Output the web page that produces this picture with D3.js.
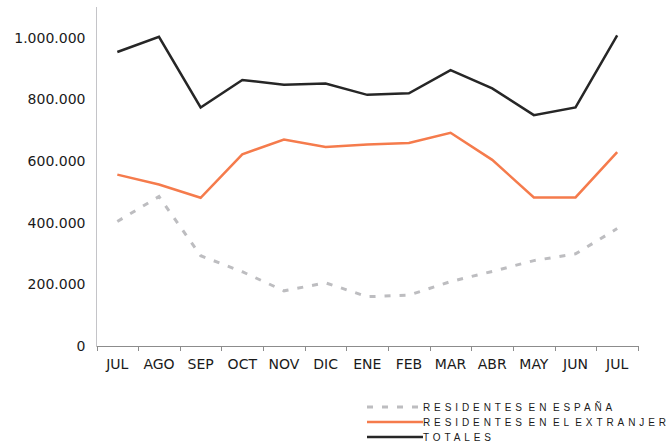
<!DOCTYPE html>
<html>
<head>
<meta charset="utf-8">
<script src="https://cdn.jsdelivr.net/npm/d3@7"></script>
<style>
  body { margin: 0; background: #fff; }
  svg { display: block; font-family: "DejaVu Sans", Verdana, sans-serif; }
</style>
</head>
<body>
<script>
var months, espana, extranjero, totales, yTicks, seriesNames;

months = ['JUL', 'AGO', 'SEP', 'OCT', 'NOV', 'DIC', 'ENE', 'FEB', 'MAR', 'ABR', 'MAY', 'JUN', 'JUL'];

espana = [404000, 485000, 293000, 241000, 179000, 205000, 160000, 165000, 209000, 242000, 277000, 299000, 381000];
extranjero = [556000, 524000, 481000, 622000, 670000, 646000, 654000, 659000, 692000, 604000, 482000, 482000, 629000];
totales = [954000, 1003000, 774000, 863000, 848000, 852000, 815000, 820000, 895000, 836000, 749000, 774000, 1008000];

yTicks = [0, 200000, 400000, 600000, 800000, 1000000];

seriesNames = ['RESIDENTES EN ESPAÑA', 'RESIDENTES EN EL EXTRANJERO', 'TOTALES'];

var W = 667, H = 447;
var plotLeft = 96.5, plotRight = 638, plotTop = 7, plotBottom = 346;

var svg = d3.select('body').append('svg')
  .attr('width', W)
  .attr('height', H);

// index based band so repeated JUL stays separate
var x = d3.scaleBand()
  .domain(d3.range(months.length))
  .range([plotLeft, plotRight]);

var y = d3.scaleLinear()
  .domain([0, 1100000])
  .range([plotBottom, plotTop]);

var es = d3.formatLocale({ decimal: ',', thousands: '.', grouping: [3], currency: ['', ''] });
var fmt = es.format(',');

// y axis
var yAxis = svg.append('g')
  .attr('transform', 'translate(' + plotLeft + ',0)')
  .call(d3.axisLeft(y).tickValues(yTicks).tickFormat(fmt).tickSize(0).tickPadding(11));
yAxis.select('.domain').attr('stroke', '#c4c4c8').attr('d', 'M0,' + plotTop + 'V' + plotBottom);
yAxis.selectAll('text')
  .attr('font-size', 14)
  .attr('font-family', '"DejaVu Sans", Verdana, sans-serif')
  .attr('fill', '#1a1a1a');

// x axis with ticks at category boundaries
var xAxis = svg.append('g')
  .attr('transform', 'translate(0,' + plotBottom + ')')
  .call(d3.axisBottom(x).tickFormat(function(i) { return months[i]; }).tickSize(0).tickPadding(13));
xAxis.select('.domain').attr('stroke', '#8c8c8c').attr('d', 'M' + plotLeft + ',0.5H' + plotRight);
xAxis.selectAll('text')
  .attr('font-size', 14)
  .attr('font-family', '"DejaVu Sans", Verdana, sans-serif')
  .attr('fill', '#1a1a1a');

var bounds = d3.range(months.length + 1).map(function(i) {
  return i < months.length ? x(i) : x(months.length - 1) + x.bandwidth();
});
xAxis.selectAll('.bound')
  .data(bounds)
  .enter()
  .append('line')
  .attr('class', 'bound')
  .attr('x1', function(d) { return Math.round(d) + 0.5; })
  .attr('x2', function(d) { return Math.round(d) + 0.5; })
  .attr('y1', 0)
  .attr('y2', 5)
  .attr('stroke', '#8c8c8c');

var line = d3.line()
  .x(function(d, i) { return x(i) + x.bandwidth() / 2; })
  .y(function(d) { return y(d); });

var series = [
  { values: espana, color: '#bdbdc0', width: 3, dash: '6,9' },
  { values: extranjero, color: '#f57b4c', width: 2.5, dash: null },
  { values: totales, color: '#262626', width: 2.5, dash: null }
];

svg.selectAll('.series')
  .data(series)
  .enter()
  .append('path')
  .attr('class', 'series')
  .attr('fill', 'none')
  .attr('stroke', function(d) { return d.color; })
  .attr('stroke-width', function(d) { return d.width; })
  .attr('stroke-dasharray', function(d) { return d.dash; })
  .attr('stroke-linejoin', 'miter')
  .attr('d', function(d) { return line(d.values); });

// legend (text runs off the right edge, as in the original)
var legend = svg.append('g')
  .attr('transform', 'translate(367,407)');

var items = legend.selectAll('.item')
  .data(series)
  .enter()
  .append('g')
  .attr('class', 'item')
  .attr('transform', function(d, i) { return 'translate(0,' + (i * 15) + ')'; });

items.append('line')
  .attr('x1', 0)
  .attr('x2', 56)
  .attr('stroke', function(d) { return d.color; })
  .attr('stroke-width', function(d) { return d.width; })
  .attr('stroke-dasharray', function(d) { return d.dash ? '6,9' : null; });

items.append('text')
  .attr('x', 56)
  .attr('dy', '0.35em')
  .attr('font-size', 10)
  .attr('letter-spacing', 3.9)
  .attr('word-spacing', -4)
  .attr('font-family', '"Liberation Sans", Arial, sans-serif')
  .attr('fill', '#1a1a1a')
  .text(function(d, i) { return seriesNames[i]; });
</script>
</body>
</html>
